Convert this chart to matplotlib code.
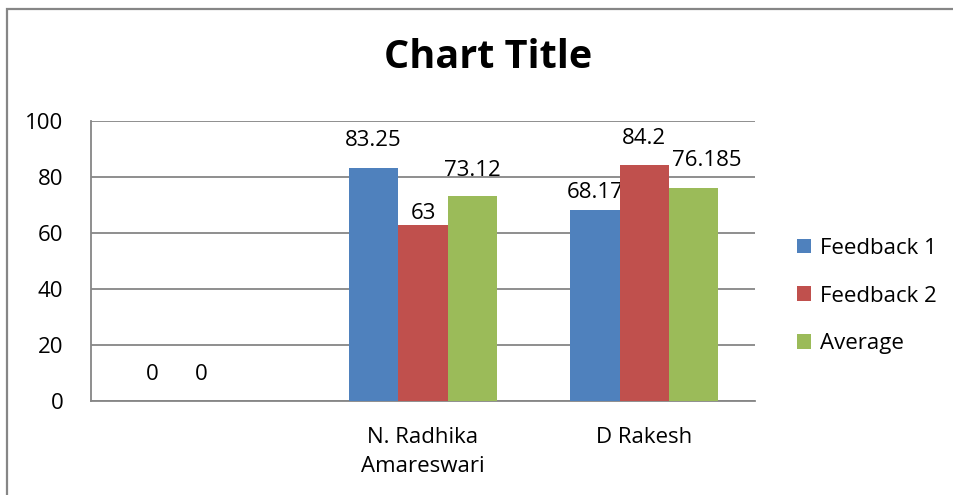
"""
Clustered bar chart of feedback scores per person
"""

import matplotlib
matplotlib.use("Agg")
from matplotlib import pyplot as plt
from matplotlib.patches import Rectangle
import numpy as np

plt.rcParams['font.family'] = ['Open Sans', 'DejaVu Sans']

names = ["", "N. Radhika\nAmareswari", "D Rakesh"]
feedback1 = [0, 83.25, 68.17]
feedback2 = [0, 63, 84.2]
average = [None, 73.12, 76.185]
series_names = ["Feedback 1", "Feedback 2", "Average"]
label_text = [["0", "83.25", "68.17"], ["0", "63", "84.2"], ["", "73.12", "76.185"]]

colors = ["#4F81BD", "#C0504D", "#9BBB59"]
# label nudges in pixels (dx, dy above bar top), per series / category
label_nudge = [[(0, 27), (0, 27), (0, 18)],
               [(0, 27), (0, 11), (0, 27)],
               [(0, 27), (0, 26), (13, 27)]]

fig = plt.figure(figsize=(9.54, 4.95), dpi=100)
ax = fig.add_axes([91 / 954, 94 / 495, 664 / 954, 280 / 495])

x = np.arange(len(names))
w = 0.223
for i, vals in enumerate([feedback1, feedback2, average]):
    v = np.array([np.nan if a is None else a for a in vals], dtype=float)
    xs = x + (i - 1) * w
    ax.bar(xs, np.nan_to_num(v), w, color=colors[i], label=series_names[i],
           zorder=3, linewidth=0)
    for j in range(len(names)):
        if label_text[i][j] == "":
            continue
        dx, dy = label_nudge[i][j]
        ax.annotate(label_text[i][j], (xs[j], v[j]), xytext=(dx * 0.72, dy * 0.72),
                    textcoords="offset points", ha="center", va="center",
                    fontsize=16, color="black")

ax.set_xlim(-0.5, 2.5)
ax.set_ylim(0, 100)
ax.set_yticks(range(0, 101, 20))
ax.set_xticks(x)
ax.set_xticklabels(names, fontsize=16, linespacing=1.45)
ax.tick_params(axis="y", labelsize=16, length=0, pad=20)
ax.tick_params(axis="x", length=0, pad=19)
ax.yaxis.grid(True, color="#868686", linewidth=1.3, zorder=0)
for s in ["top", "right"]:
    ax.spines[s].set_visible(False)
for s in ["left", "bottom"]:
    ax.spines[s].set_color("#868686")
    ax.spines[s].set_linewidth(1.3)

fig.text(488 / 954, 1 - 58 / 495, "Chart Title", ha="center", va="center",
         fontsize=28.5, fontweight="bold")

handles, labels = ax.get_legend_handles_labels()
fig.legend(handles, labels, loc="center left", bbox_to_anchor=(777 / 954, 1 - 296 / 495),
           frameon=False, fontsize=16, handlelength=0.65, handleheight=0.65,
           handletextpad=0.4, labelspacing=1.2)

fig.patches.append(Rectangle((7.5 / 954, -0.1), 1.2, 1.1 - 8.5 / 495 + 0.0,
                             transform=fig.transFigure, fill=False,
                             edgecolor="#868686", linewidth=1.6))

plt.savefig("out.png", dpi=100)
